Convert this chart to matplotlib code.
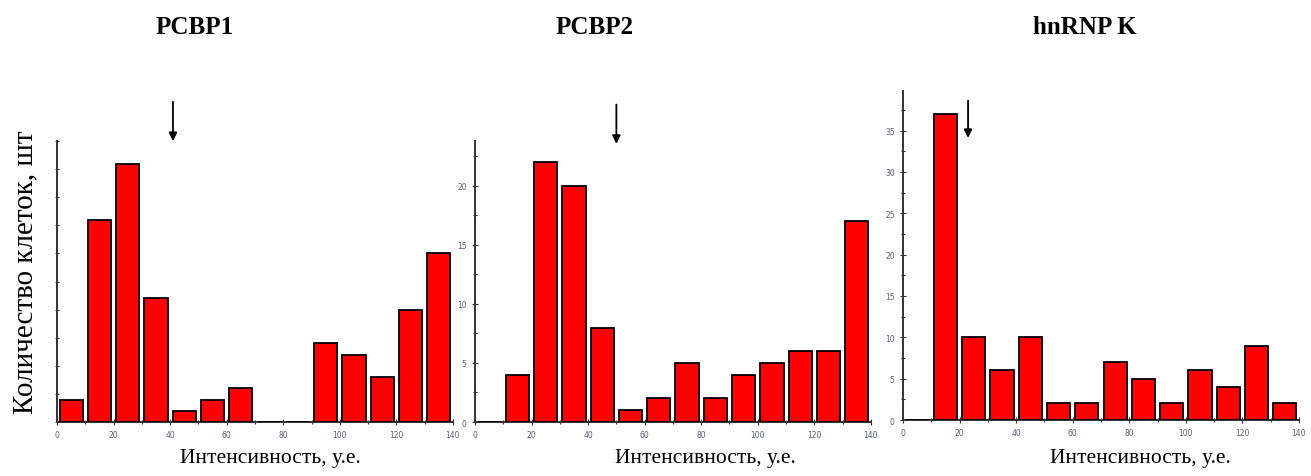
import numpy as np
import matplotlib.pyplot as plt
from matplotlib.ticker import MultipleLocator

# bin left edges (intensity, a.u.), bin width 10
bins = np.arange(0, 140, 10)

pcbp1 = [2, 18, 23, 11, 1, 2, 3, 0, 0, 7, 6, 4, 10, 15]
pcbp2 = [0, 4, 22, 20, 8, 1, 2, 5, 2, 4, 5, 6, 6, 17]
hnrnpk = [0, 37, 10, 6, 10, 2, 2, 7, 5, 2, 6, 4, 9, 2]

titles = ["PCBP1", "PCBP2", "hnRNP K"]
arrow_x = [41, 50, 23]
ylims = [25, 23.8, 39.8]

serif = "Liberation Serif"
tick_color = "#55607a"

fig = plt.figure(figsize=(13.11, 4.77), dpi=100)

# axes boxes in figure fraction
boxes = [
    [0.0435, 0.1132, 0.302, 0.589],
    [0.3623, 0.1132, 0.302, 0.589],
    [0.6888, 0.1174, 0.302, 0.690],
]
title_x = [195 / 1311, 595 / 1311, 1085 / 1311]
xlabel_x = [270 / 1311, 705 / 1311, 1140 / 1311]
arrow_y = [(1.0, 1.14), (0.99, 1.13), (0.857, 0.97)]

data = [pcbp1, pcbp2, hnrnpk]

for i in range(3):
    ax = fig.add_axes(boxes[i])
    ax.bar(bins + 5, data[i], width=8.2, color="#ff0000", edgecolor="black",
           linewidth=1.3, zorder=3)
    ax.set_xlim(0, 140)
    ax.set_ylim(0, ylims[i])
    for s in ["top", "right"]:
        ax.spines[s].set_visible(False)
    for s in ["left", "bottom"]:
        ax.spines[s].set_color("#333333")
        ax.spines[s].set_linewidth(1.4)
    ax.xaxis.set_major_locator(MultipleLocator(20))
    ax.xaxis.set_minor_locator(MultipleLocator(10))
    ax.yaxis.set_major_locator(MultipleLocator(5))
    ax.yaxis.set_minor_locator(MultipleLocator(2.5))
    ax.tick_params(which="both", direction="inout", color="#333333",
                   labelsize=5.5, labelcolor=tick_color, width=0.8)
    ax.tick_params(which="major", length=5)
    ax.tick_params(which="minor", length=3)
    if i == 0:
        ax.yaxis.set_major_locator(MultipleLocator(2.5))
        ax.set_yticklabels([])
        ax.tick_params(axis="y", which="major", length=3)

    ax.annotate("", xy=(arrow_x[i], arrow_y[i][0]),
                xytext=(arrow_x[i], arrow_y[i][1]),
                xycoords=("data", "axes fraction"),
                textcoords=("data", "axes fraction"),
                arrowprops=dict(arrowstyle="-|>", color="black", lw=1.3,
                                mutation_scale=12, shrinkA=0, shrinkB=0),
                annotation_clip=False)

    fig.text(title_x[i], 1 - 27 / 477, titles[i], ha="center", va="center",
             fontsize=18, fontweight="bold", family=serif)
    fig.text(xlabel_x[i], 1 - 459 / 477, "Интенсивность, у.е.", ha="center",
             va="center", fontsize=15.5, family=serif)

fig.text(25 / 1311, 1 - 272 / 477, "Количество клеток, шт", rotation=90,
         ha="center", va="center", fontsize=21, family=serif)

plt.savefig("out.png", dpi=100)
